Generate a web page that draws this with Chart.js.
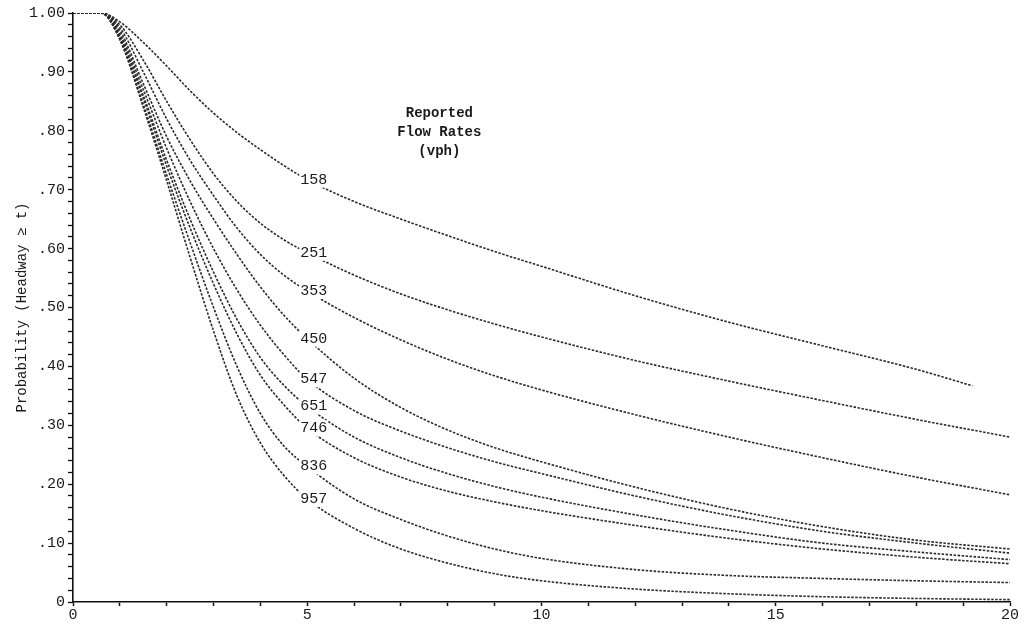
<!DOCTYPE html>
<html>
<head>
<meta charset="utf-8">
<script src="https://cdn.jsdelivr.net/npm/chart.js@4/dist/chart.umd.min.js"></script>
<style>
  html, body { margin: 0; padding: 0; background: #ffffff; }
  #wrap { width: 1026px; height: 625px; }
</style>
</head>
<body>
<div id="wrap"><canvas id="c" width="1026" height="625"></canvas></div>
<script>
// ---- data ----
const flowRates = ['158', '251', '353', '450', '547', '651', '746', '836', '957'];
const tGrid = [0, 0.6, 1, 1.5, 2, 2.5, 3, 3.5, 4, 4.5, 5, 6, 7, 8, 9, 10, 12, 14, 16, 18, 20];
const t158  = [0, 0.6, 1, 1.5, 2, 2.5, 3, 3.5, 4, 4.5, 5, 6, 7, 8, 9, 10, 12, 14, 16, 18, 19.2];

const p158 = [1, 1, 0.985, 0.95, 0.91, 0.868, 0.83, 0.797, 0.768, 0.741, 0.717, 0.68, 0.65, 0.622, 0.595, 0.57, 0.52, 0.475, 0.435, 0.395, 0.367];
const p251 = [1, 1, 0.98, 0.92, 0.85, 0.785, 0.727, 0.68, 0.643, 0.615, 0.593, 0.555, 0.523, 0.496, 0.472, 0.45, 0.41, 0.375, 0.342, 0.31, 0.28];
const p353 = [1, 1, 0.975, 0.9, 0.82, 0.75, 0.69, 0.635, 0.59, 0.555, 0.528, 0.483, 0.445, 0.412, 0.384, 0.36, 0.318, 0.28, 0.245, 0.212, 0.182];
const p450 = [1, 1, 0.97, 0.88, 0.79, 0.715, 0.65, 0.59, 0.535, 0.487, 0.447, 0.38, 0.33, 0.292, 0.262, 0.238, 0.195, 0.158, 0.128, 0.105, 0.09];
const p547 = [1, 1, 0.965, 0.87, 0.77, 0.68, 0.6, 0.53, 0.47, 0.42, 0.378, 0.325, 0.29, 0.262, 0.238, 0.218, 0.18, 0.147, 0.12, 0.1, 0.083];
const p651 = [1, 1, 0.96, 0.86, 0.75, 0.65, 0.56, 0.48, 0.415, 0.368, 0.332, 0.28, 0.245, 0.218, 0.196, 0.178, 0.148, 0.122, 0.1, 0.085, 0.072];
const p746 = [1, 1, 0.96, 0.855, 0.74, 0.635, 0.54, 0.455, 0.385, 0.335, 0.295, 0.245, 0.212, 0.188, 0.17, 0.155, 0.13, 0.108, 0.09, 0.076, 0.065];
const p836 = [1, 1, 0.955, 0.845, 0.725, 0.61, 0.5, 0.4, 0.32, 0.265, 0.23, 0.175, 0.14, 0.112, 0.09, 0.074, 0.055, 0.045, 0.04, 0.036, 0.033];
const p957 = [1, 1, 0.955, 0.84, 0.715, 0.585, 0.46, 0.35, 0.27, 0.215, 0.175, 0.125, 0.09, 0.066, 0.048, 0.036, 0.022, 0.014, 0.009, 0.006, 0.004];

const xTickLabels = ['0', '5', '10', '15', '20'];
const yTickLabels = ['0', '.10', '.20', '.30', '.40', '.50', '.60', '.70', '.80', '.90', '1.00'];
const legendTitle = ['Reported', 'Flow Rates', '(vph)'];
const yAxisTitle = 'Probability (Headway \u2265 t)';

// ---- build ----
const seriesValues = [p158, p251, p353, p450, p547, p651, p746, p836, p957];
const seriesTimes  = [t158, tGrid, tGrid, tGrid, tGrid, tGrid, tGrid, tGrid, tGrid];

const FONT = '"Liberation Mono", "DejaVu Sans Mono", monospace';

const datasets = flowRates.map((name, i) => ({
  label: name,
  data: seriesTimes[i].map((t, k) => ({ x: t, y: seriesValues[i][k] })),
  borderColor: '#2a2a2a',
  borderWidth: 1.6,
  borderDash: [2.5, 1.5],
  pointRadius: 0,
  fill: false,
  cubicInterpolationMode: 'monotone'
}));

const labelPlugin = {
  id: 'curveLabels',
  afterDatasetsDraw(chart) {
    const { ctx } = chart;
    const xs = chart.scales.x, ys = chart.scales.y;
    ctx.save();
    ctx.font = '15px ' + FONT;
    ctx.textBaseline = 'middle';
    ctx.textAlign = 'left';
    chart.data.datasets.forEach(ds => {
      const pt = ds.data.find(p => p.x === 5);
      const px = xs.getPixelForValue(4.85);
      const py = ys.getPixelForValue(pt.y);
      const w = ctx.measureText(ds.label).width;
      ctx.fillStyle = '#ffffff';
      ctx.fillRect(px - 1, py - 8, w + 2, 16);
      ctx.fillStyle = '#1a1a1a';
      ctx.fillText(ds.label, px, py);
    });
    ctx.font = 'bold 14px ' + FONT;
    ctx.textAlign = 'center';
    const cx = xs.getPixelForValue(7.82);
    const cy = ys.getPixelForValue(0.83);
    legendTitle.forEach((s, k) => ctx.fillText(s, cx, cy + k * 19));
    ctx.restore();
  }
};

new Chart(document.getElementById('c'), {
  type: 'line',
  data: { datasets },
  options: {
    responsive: false,
    animation: false,
    layout: { padding: { left: 0, top: 13, right: 16, bottom: 0 } },
    plugins: { legend: { display: false }, tooltip: { enabled: false } },
    scales: {
      x: {
        type: 'linear',
        min: 0, max: 20,
        border: { display: true, color: '#111', width: 1.6 },
        grid: { drawOnChartArea: false, drawTicks: true, tickLength: 4, color: '#111', tickWidth: 1.5 },
        ticks: {
          stepSize: 1,
          autoSkip: false,
          maxRotation: 0,
          padding: 0,
          color: '#1a1a1a',
          font: { family: FONT, size: 15 },
          callback: (v) => (Math.round(v) % 5 === 0 ? xTickLabels[Math.round(v) / 5] : '')
        },
        afterFit: (s) => { s.height = 23; }
      },
      y: {
        type: 'linear',
        min: 0, max: 1,
        border: { display: true, color: '#111', width: 1.6 },
        grid: { drawOnChartArea: false, drawTicks: true, tickLength: 5, color: '#111', tickWidth: 1.3 },
        ticks: {
          stepSize: 0.02,
          autoSkip: false,
          padding: 3,
          color: '#1a1a1a',
          font: { family: FONT, size: 15 },
          callback: (v) => {
            const n = Math.round(v * 100);
            return n % 10 === 0 ? yTickLabels[n / 10] : '';
          }
        },
        title: {
          display: true,
          text: yAxisTitle,
          color: '#1a1a1a',
          font: { family: FONT, size: 14 },
          padding: { top: 14, bottom: 0 }
        },
        afterFit: (s) => { s.width = 73; }
      }
    }
  },
  plugins: [labelPlugin]
});
</script>
</body>
</html>
